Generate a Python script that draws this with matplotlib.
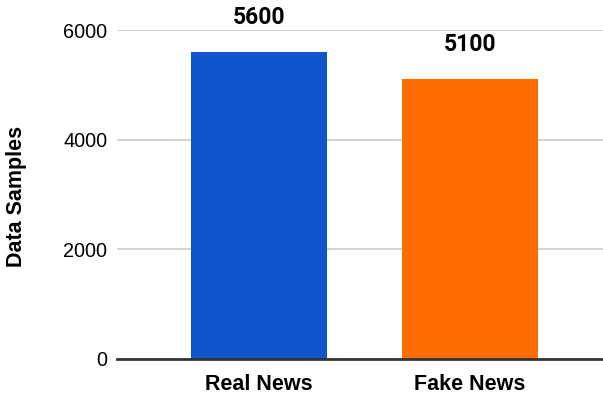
import matplotlib
matplotlib.use("Agg")
import matplotlib.pyplot as plt

categories = ["Real News", "Fake News"]
samples = [5600, 5100]
colors = ["#1155cc", "#ff6d01"]
y_ticks = [0, 2000, 4000, 6000]

fig = plt.figure(figsize=(6.03, 3.94), dpi=100)
ax = fig.add_axes([117 / 603, 1 - 359 / 394, (603 - 117) / 603, (359 - 30) / 394])

x = list(range(len(categories)))
bars = ax.bar(x, samples, width=0.646, color=colors, zorder=3)

for xi, v in zip(x, samples):
    ax.text(xi, v + 420, f"{v}", ha="center", va="bottom",
            fontsize=16.5, fontweight="bold", family="Roboto", color="#000000",
            clip_on=False)

ax.set_xlim(-0.675, 1.634)
ax.set_ylim(0, 6000)
ax.set_yticks(y_ticks)
ax.set_yticklabels([str(t) for t in y_ticks], family="Liberation Sans", fontsize=14.3)
ax.set_xticks(x)
ax.set_xticklabels(categories, family="Liberation Sans", fontsize=15.5, fontweight="bold")
ax.tick_params(axis="both", length=0, colors="#000000")
ax.tick_params(axis="y", pad=7)
ax.tick_params(axis="x", pad=11)

ax.yaxis.grid(True, color="#cccccc", linewidth=1.2, zorder=0)
for side in ["top", "right", "left"]:
    ax.spines[side].set_visible(False)
ax.spines["bottom"].set_color("#333333")
ax.spines["bottom"].set_linewidth(2)
ax.spines["bottom"].set_zorder(4)

fig.text(17 / 603, 1 - 196 / 394, "Data Samples", rotation=90, ha="center", va="center",
         family="Liberation Sans", fontsize=15.5, fontweight="bold")

fig.savefig("out.png", dpi=100)
